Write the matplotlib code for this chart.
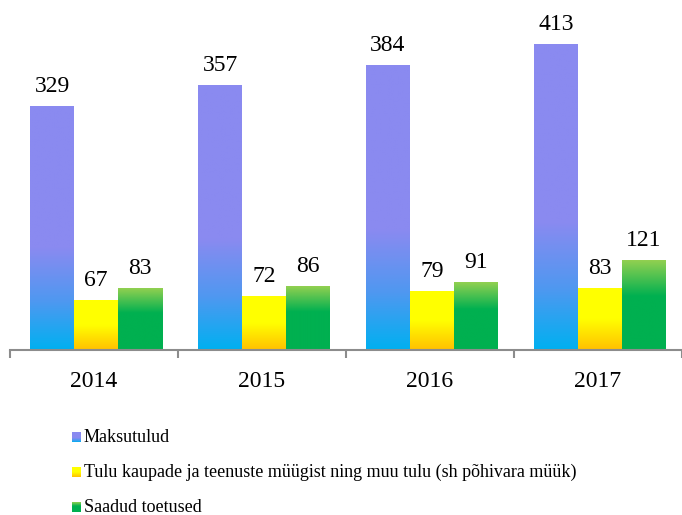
import numpy as np
import matplotlib
matplotlib.use('Agg')
import matplotlib.pyplot as plt
from matplotlib.colors import LinearSegmentedColormap

years = ['2014', '2015', '2016', '2017']
maksutulud = [329, 357, 384, 413]
tulu_kaupade = [67, 72, 79, 83]
toetused = [83, 86, 91, 121]
series_names = ['Maksutulud',
                'Tulu kaupade ja teenuste müügist ning muu tulu (sh põhivara müük)',
                'Saadud toetused']

# gradients: top of bar -> bottom of bar
cm_purple = LinearSegmentedColormap.from_list(
    'p', [(0, '#8a8af0'), (0.58, '#8a8af0'), (0.8, '#4f98f0'), (1.0, '#00b0f0')])
cm_yellow = LinearSegmentedColormap.from_list(
    'y', [(0, '#ffff00'), (0.5, '#ffff00'), (1.0, '#ffc000')])
cm_green = LinearSegmentedColormap.from_list(
    'g', [(0, '#92d050'), (0.4, '#00b050'), (1.0, '#00b050')])
cmaps = [cm_purple, cm_yellow, cm_green]

plt.rcParams['font.family'] = ['Liberation Serif', 'DejaVu Serif']

fig = plt.figure(figsize=(6.82, 5.15), dpi=100)
ax = fig.add_axes([10/682, 165/515, 672/682, 345/515])
ax.set_xlim(0, 4)
ax.set_ylim(0, 466)

grad = np.linspace(0, 1, 256).reshape(-1, 1)
width = 44/168
offset = 20/168
for i in range(len(years)):
    for j, vals in enumerate([maksutulud, tulu_kaupade, toetused]):
        x0 = i + offset + j*width
        v = vals[i]
        ax.imshow(grad, cmap=cmaps[j], aspect='auto', extent=(x0, x0+width, 0, v),
                  origin='upper', interpolation='bilinear', zorder=2)
        ax.text(x0 + width/2, v + 13, str(v), ha='center', va='bottom', fontsize=17)

for s in ['left', 'right', 'top']:
    ax.spines[s].set_visible(False)
ax.spines['bottom'].set_color('#8c8c8c')
ax.spines['bottom'].set_linewidth(1.5)
ax.set_yticks([])
ax.set_xticks([0, 1, 2, 3, 4])
ax.set_xticklabels([])
ax.set_xticks([0.5, 1.5, 2.5, 3.5], minor=True)
ax.set_xticklabels(years, minor=True, fontsize=17)
ax.tick_params(axis='x', which='major', length=6, width=1.5, color='#8c8c8c')
ax.tick_params(axis='x', which='minor', length=0, pad=15)

# legend
leg_y = [437, 472, 507]
for j, name in enumerate(series_names):
    sw = fig.add_axes([72/682, (515 - leg_y[j] - 5)/515, 9/682, 10/515])
    sw.imshow(grad, cmap=cmaps[j], aspect='auto', origin='upper')
    sw.axis('off')
    fig.text(84/682, (515 - leg_y[j])/515, name, ha='left', va='center', fontsize=13)

plt.savefig('out.png', dpi=100)
